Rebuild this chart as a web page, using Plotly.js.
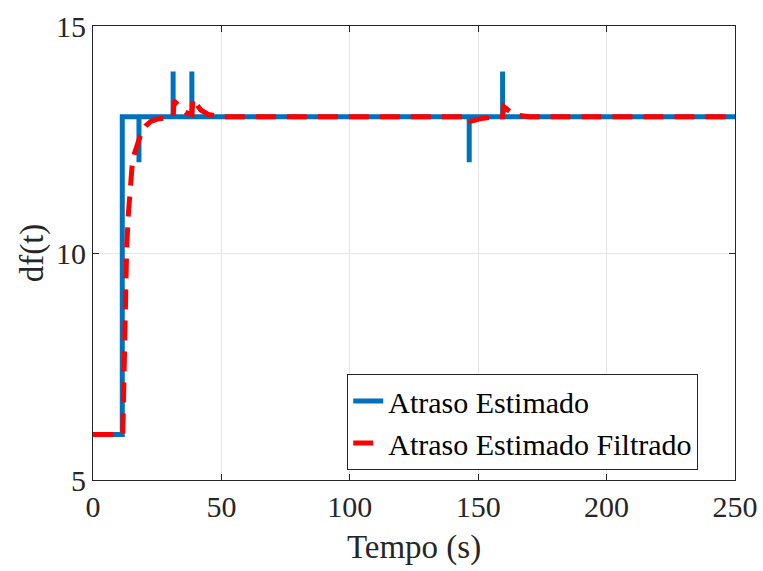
<!DOCTYPE html>
<html>
<head>
<meta charset="utf-8">
<script src="https://cdn.plot.ly/plotly-3.0.1.min.js"></script>
<style>html,body{margin:0;padding:0;background:#fff;}#chart{width:763px;height:571px;}</style>
</head>
<body>
<div id="chart"></div>
<script>
// Atraso Estimado (blue step series)
var tEst = [0, 11.4, 11.4, 17.9, 17.9, 17.9, 31.2, 31.2, 31.2, 38.5, 38.5, 38.5, 146.5, 146.5, 146.5, 159.5, 159.5, 159.5, 250];
var dEst = [6, 6, 13, 13, 12, 13, 13, 14, 13, 13, 14, 13, 13, 12, 13, 13, 14, 13, 13];

// Atraso Estimado Filtrado (red dashed series)
var tFilt = [0, 11.6, 11.9, 12.2, 12.6, 13.1, 13.7, 14.4, 15.2, 16.2, 17.4, 18.8, 20.5, 22.5, 25, 28, 31.2, 31.6, 32.5, 34, 36, 38.5, 38.9, 40, 42, 45, 50, 60, 146.5, 147, 149, 152, 156, 159.5, 160, 161.5, 163.5, 166, 170, 250];
var dFilt = [6, 6, 6.8, 8.0, 9.2, 10.1, 10.8, 11.4, 11.9, 12.2, 12.45, 12.65, 12.8, 12.9, 12.95, 12.98, 13, 13.35, 13.3, 13.2, 13.1, 13.05, 13.4, 13.3, 13.15, 13.05, 13.0, 13, 13, 12.9, 12.93, 12.97, 13, 13, 13.22, 13.15, 13.07, 13.03, 13, 13];

var xTicks = [0, 50, 100, 150, 200, 250];
var yTicks = [5, 10, 15];

var traces = [
  {x: tEst, y: dEst, type: 'scatter', mode: 'lines', name: 'Atraso Estimado',
   line: {color: '#0072BD', width: 5, shape: 'linear'}},
  {x: tFilt, y: dFilt, type: 'scatter', mode: 'lines', name: 'Atraso Estimado Filtrado',
   line: {color: '#FF0000', width: 5, dash: '20px,11px', shape: 'linear'}}
];

var layout = {
  width: 763, height: 571,
  margin: {l: 93, r: 28, t: 26, b: 91},
  paper_bgcolor: '#fff', plot_bgcolor: '#fff',
  font: {family: '"Liberation Serif", "Times New Roman", serif', color: '#262626', size: 30},
  showlegend: true,
  legend: {x: 0.396, y: 0.022, xanchor: 'left', yanchor: 'bottom',
           bgcolor: '#fff', bordercolor: '#262626', borderwidth: 1,
           font: {size: 30, color: '#000'}, tracegroupgap: 0},
  xaxis: {range: [0, 250], tickvals: xTicks, ticktext: xTicks.map(String),
          showgrid: true, gridcolor: '#e6e6e6', gridwidth: 1,
          zeroline: false, showline: true, linecolor: '#262626', linewidth: 1, mirror: 'ticks',
          ticks: 'inside', ticklen: 6, tickcolor: '#262626',
          tickfont: {size: 30},
          title: {text: 'Tempo (s)', font: {size: 33}, standoff: 12}},
  yaxis: {range: [5, 15], tickvals: yTicks, ticktext: yTicks.map(String),
          showgrid: true, gridcolor: '#e6e6e6', gridwidth: 1,
          zeroline: false, showline: true, linecolor: '#262626', linewidth: 1, mirror: 'ticks',
          ticks: 'inside', ticklen: 6, tickcolor: '#262626',
          tickfont: {size: 30},
          title: {text: 'df(t)', font: {size: 33}, standoff: 2}}
};

Plotly.newPlot('chart', traces, layout, {displayModeBar: false, staticPlot: true});
</script>
</body>
</html>
